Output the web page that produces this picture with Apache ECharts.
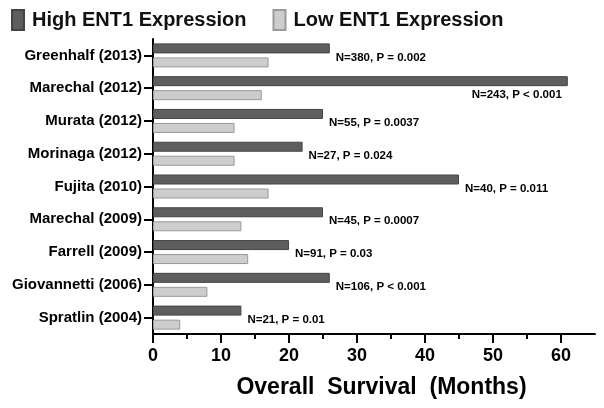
<!DOCTYPE html>
<html>
<head>
<meta charset="utf-8">
<script src="https://cdn.jsdelivr.net/npm/echarts@6/dist/echarts.min.js"></script>
<style>
  html, body {margin: 0; padding: 0; background: #fff;}
  #chart {width: 604px; height: 408px;}
</style>
</head>
<body>
<div id="chart"></div>
<script>
// studies, top to bottom
var studies = ['Greenhalf (2013)', 'Marechal (2012)', 'Murata (2012)', 'Morinaga (2012)',
  'Fujita (2010)', 'Marechal (2009)', 'Farrell (2009)', 'Giovannetti (2006)', 'Spratlin (2004)'];
// overall survival, months
var highOS = [26, 61, 25, 22, 45, 25, 20, 26, 13];
var lowOS = [17, 16, 12, 12, 17, 13, 14, 8, 4];
var notes = ['N=380, P = 0.002', 'N=243, P < 0.001', 'N=55, P = 0.0037', 'N=27, P = 0.024',
  'N=40, P = 0.011', 'N=45, P = 0.0007', 'N=91, P = 0.03', 'N=106, P < 0.001', 'N=21, P = 0.01'];
var majorTicks = [0, 10, 20, 30, 40, 50, 60];
var minorTicks = [5, 15, 25, 35, 45, 55];

var font = "'Liberation Sans', Arial, sans-serif";
var myChart = echarts.init(document.getElementById('chart'));

var axisBase = {
  type: 'value',
  position: 'bottom',
  min: 0,
  max: 65,
  interval: 5,
  splitLine: {show: false}
};

myChart.setOption({
  animation: false,
  textStyle: {fontFamily: font},
  legend: {
    left: 11,
    top: 9,
    padding: 0,
    itemWidth: 12,
    itemHeight: 20,
    itemGap: 26,
    icon: 'rect',
    textStyle: {fontSize: 20, fontWeight: 'bold', color: '#111', fontFamily: font, padding: [0, 0, 0, 3]},
    data: ['High ENT1 Expression', 'Low ENT1 Expression']
  },
  grid: {left: 153, right: 9, top: 39, bottom: 74, containLabel: false},
  xAxis: [
    Object.assign({}, axisBase, {
      axisLine: {show: true, lineStyle: {color: '#000', width: 2}},
      axisTick: {show: true, length: 9, lineStyle: {color: '#000', width: 2}, customValues: majorTicks},
      axisLabel: {
        customValues: majorTicks,
        margin: 13,
        fontSize: 18,
        fontWeight: 'bold',
        color: '#000',
        fontFamily: font
      },
      name: 'Overall  Survival  (Months)',
      nameLocation: 'middle',
      nameGap: 42,
      nameTextStyle: {fontSize: 23, fontWeight: 'bold', color: '#000', fontFamily: font, padding: [0, 0, 0, 15]}
    }),
    Object.assign({}, axisBase, {
      axisLine: {show: false},
      axisTick: {show: true, length: 5, lineStyle: {color: '#000', width: 2}, customValues: minorTicks},
      axisLabel: {show: false}
    })
  ],
  yAxis: {
    type: 'category',
    inverse: true,
    data: studies,
    axisLine: {show: true, lineStyle: {color: '#000', width: 2}},
    axisTick: {show: true, alignWithLabel: true, length: 9, lineStyle: {color: '#000', width: 2}},
    axisLabel: {margin: 11, fontSize: 15, fontWeight: 'bold', color: '#000', fontFamily: font}
  },
  series: [
    {
      name: 'High ENT1 Expression',
      type: 'bar',
      barWidth: 10,
      barGap: '40%',
      itemStyle: {color: '#5e5e5e', borderColor: '#444', borderWidth: 1},
      label: {
        show: true,
        position: 'right',
        distance: 6,
        offset: [0, 9],
        fontSize: 11.5,
        fontWeight: 'bold',
        color: '#000',
        fontFamily: font,
        formatter: function (p) { return notes[p.dataIndex]; }
      },
      data: highOS.map(function (v, i) {
        return i === 1 ? {value: v, label: {position: 'insideRight', offset: [0, 14]}} : v;
      })
    },
    {
      name: 'Low ENT1 Expression',
      type: 'bar',
      barWidth: 10,
      barGap: '40%',
      itemStyle: {color: '#cdcdcd', borderColor: '#9a9a9a', borderWidth: 1},
      data: lowOS
    }
  ]
});
</script>
</body>
</html>
